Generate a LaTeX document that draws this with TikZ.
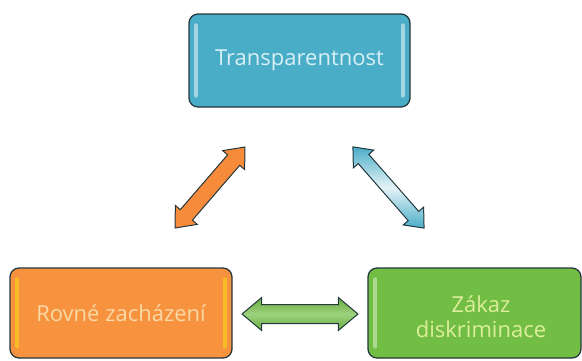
\documentclass[tikz,border=0pt]{standalone}
\usepackage{fontspec}
\setmainfont{Open Sans}
\usetikzlibrary{shapes.arrows,calc}
\definecolor{edge}{HTML}{24373D}
\definecolor{bluef}{HTML}{4AADC8}
\definecolor{orangef}{HTML}{F7923F}
\definecolor{greenf}{HTML}{72BE45}
\definecolor{bluet}{HTML}{D8F0F5}
\definecolor{oranget}{HTML}{F9D9A6}
\definecolor{greent}{HTML}{DDEE9A}
\tikzset{
  box/.style={draw=edge, line width=1.3pt, rounded corners=9pt, inner sep=0pt,
    font=\fontsize{22}{26}\selectfont, align=center},
  shine/.style={line width=4pt, line cap=round, draw opacity=0.7},
  barrow/.style={shape=double arrow, draw=edge, line width=1pt, inner xsep=0pt,
    double arrow head indent=0pt, double arrow tip angle=80}
}
\begin{document}
\begin{tikzpicture}[x=1pt,y=-1pt]
\useasboundingbox (0,0) rectangle (582,360);
% boxes
\node[box, fill=bluef, text=bluet, minimum width=221pt, minimum height=93pt] (top) at (299.5,60.5) {Transparentnost};
\node[box, fill=orangef, text=oranget, minimum width=222pt, minimum height=90pt] (left) at (121,313) {Rovné zacházení};
\node[box, fill=greenf, text=greent, minimum width=213pt, minimum height=90pt] (right) at (474.5,313) {};
\node[font=\fontsize{22}{25}\selectfont, text=greent, align=center] (rtext) at (481,317) {Zákaz\\diskriminace};
% glossy strips
\draw[shine, white!70!bluef] ($(top.north west)+(8,12)$) -- ($(top.south west)+(8,-12)$);
\draw[shine, white!70!bluef] ($(top.north east)+(-8,12)$) -- ($(top.south east)+(-8,-12)$);
\draw[shine, yellow!60!orangef] ($(left.north west)+(8,12)$) -- ($(left.south west)+(8,-12)$);
\draw[shine, yellow!60!orangef] ($(left.north east)+(-8,12)$) -- ($(left.south east)+(-8,-12)$);
\draw[shine, white!60!greenf] ($(right.north west)+(8,12)$) -- ($(right.south west)+(8,-12)$);
% arrows
\node[barrow, fill=orangef!95!red, minimum height=107pt, inner ysep=7.5pt, double arrow head extend=6.5pt, rotate=49.2] (a1) at (210,187.5) {};
\node[barrow, top color=bluef, bottom color=bluef, middle color=white!85!bluef, minimum height=108pt, inner ysep=6.5pt, double arrow head extend=6.5pt, rotate=-48.8] (a2) at (388.5,187.5) {};
\node[barrow, top color=greenf!90!black, bottom color=greenf!90!black, middle color=greenf!70!white, minimum height=116pt, inner ysep=9pt, double arrow head extend=7pt, rotate=0] (a3) at (300,314) {};
\end{tikzpicture}
\end{document}
